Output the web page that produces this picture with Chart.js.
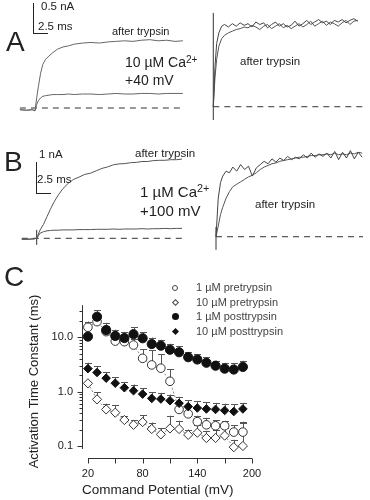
<!DOCTYPE html>
<html>
<head>
<meta charset="utf-8">
<script src="https://cdn.jsdelivr.net/npm/chart.js@4.4.0/dist/chart.umd.min.js"></script>
<style>
body { margin: 0; width: 370px; height: 500px; position: relative; overflow: hidden; background: #fff;
       font-family: "Liberation Sans", Arial, sans-serif; color: #222; }
canvas, .t, .bar, .sym { position: absolute; }
.t { white-space: nowrap; line-height: 1; }
.sup { font-size: 0.72em; position: relative; top: -0.42em; }
.bar { border-left: 1px solid #222; border-bottom: 1px solid #222; }
.leg { font-size: 11px; color: #444; }
</style>
</head>
<body>
<canvas id="aLeft" width="175" height="85" style="left:15px;top:30px"></canvas>
<canvas id="aRight" width="165" height="120" style="left:205px;top:5px"></canvas>
<canvas id="bLeft" width="180" height="110" style="left:15px;top:140px"></canvas>
<canvas id="bRight" width="162" height="115" style="left:208px;top:140px"></canvas>
<canvas id="chartC" width="370" height="240" style="left:0;top:260px"></canvas>

<div class="t" style="left:6px;top:28px;font-size:28px">A</div>
<div class="t" style="left:4px;top:148px;font-size:28px">B</div>
<div class="t" style="left:4px;top:263px;font-size:28px">C</div>

<div class="bar" style="left:33px;top:3px;width:14px;height:30px"></div>
<div class="t" style="left:41px;top:1px;font-size:11.5px">0.5 nA</div>
<div class="t" style="left:38px;top:21px;font-size:11.5px">2.5 ms</div>
<div class="t" style="left:112px;top:26px;font-size:11px">after trypsin</div>
<div class="t" style="left:125px;top:55px;font-size:14px">10 µM Ca<span class="sup">2+</span></div>
<div class="t" style="left:125px;top:73px;font-size:14px">+40 mV</div>
<div class="t" style="left:240px;top:56px;font-size:11.5px">after trypsin</div>

<div class="bar" style="left:36px;top:162px;width:14px;height:31px"></div>
<div class="t" style="left:39px;top:149px;font-size:11.5px">1 nA</div>
<div class="t" style="left:37px;top:174px;font-size:11.5px">2.5 ms</div>
<div class="t" style="left:135px;top:148px;font-size:11.5px">after trypsin</div>
<div class="t" style="left:140px;top:184px;font-size:15px">1 µM Ca<span class="sup">2+</span></div>
<div class="t" style="left:140px;top:203px;font-size:15px">+100 mV</div>
<div class="t" style="left:255px;top:199px;font-size:11.5px">after trypsin</div>

<div class="sym" style="left:172px;top:285px;width:4px;height:4px;border:1px solid #444;border-radius:50%"></div>
<div class="sym" style="left:172.5px;top:300px;width:3px;height:3px;border:1px solid #444;transform:rotate(45deg)"></div>
<div class="sym" style="left:171.5px;top:313px;width:7px;height:7px;background:#111;border-radius:50%"></div>
<div class="sym" style="left:172.5px;top:328.5px;width:5px;height:5px;background:#111;transform:rotate(45deg)"></div>
<div class="t leg" style="left:196px;top:282px">1 µM pretrypsin</div>
<div class="t leg" style="left:196px;top:297px">10 µM pretrypsin</div>
<div class="t leg" style="left:196px;top:311px">1 µM posttrypsin</div>
<div class="t leg" style="left:196px;top:326px">10 µM posttrypsin</div>

<script>
// ---- panel A, left: raw currents (ms, nA)
const aLeftTime = [-2.7, -1.5, -0.5, 0, 0.3, 0.6, 1.0, 1.4, 1.9, 2.5, 3.2, 4.0, 5.0, 6.0, 7.0, 8.5, 10, 11.5, 13, 14.5, 16, 17.5, 19, 20.5, 22, 23.5, 25, 26.4];
const aLeftAfter = [-0.03, -0.04, -0.03, -0.05, 0.18, 0.38, 0.62, 0.78, 0.87, 0.93, 0.99, 1.05, 1.09, 1.11, 1.14, 1.16, 1.17, 1.16, 1.18, 1.19, 1.2, 1.19, 1.21, 1.22, 1.2, 1.21, 1.19, 1.2];
const aLeftBefore = [-0.03, -0.04, -0.03, -0.05, 0.06, 0.13, 0.18, 0.21, 0.22, 0.23, 0.24, 0.24, 0.24, 0.25, 0.24, 0.25, 0.25, 0.24, 0.25, 0.26, 0.25, 0.25, 0.26, 0.26, 0.25, 0.26, 0.26, 0.26];
const aLeftBaseTime = [-2.7, 26.4];

// ---- panel A, right: scaled currents
const aRightTime = [0, 0.3, 0.6, 1, 1.5, 2, 2.7, 3.4, 4.1, 4.8, 5.5, 6.2, 6.9, 7.6, 8.3, 9, 9.7, 10.4, 11.1, 11.8, 12.5, 13.2, 13.9, 14.6, 15.3, 16, 16.7, 17.4, 18.1, 18.8, 19.5, 20.2, 20.9, 21.6, 22.3, 23, 23.7, 24.4, 25.1, 25.8];
const aRightFast = [0, 0.48, 0.76, 0.89, 0.97, 0.99, 0.96, 1.0, 0.97, 1.01, 0.98, 1.0, 0.96, 1.02, 0.99, 1.01, 0.95, 0.99, 1.02, 0.97, 1.0, 0.96, 0.98, 1.03, 0.97, 1.0, 1.04, 0.99, 1.02, 1.05, 1.01, 1.03, 0.99, 1.04, 1.02, 1.05, 1.01, 1.04, 1.06, 1.03];
const aRightSlow = [0, 0.35, 0.57, 0.73, 0.82, 0.86, 0.89, 0.91, 0.93, 0.94, 0.96, 0.95, 0.98, 0.96, 0.93, 0.97, 0.99, 0.94, 0.97, 1.0, 0.95, 0.98, 0.94, 0.97, 1.0, 0.96, 0.99, 1.03, 0.97, 1.0, 1.03, 0.98, 1.02, 1.0, 0.97, 1.01, 1.04, 0.99, 1.03, 1.04];
const aRightBaseTime = [0, 26.7];
const aRightMarkY = [-0.16, 1.13];

// ---- panel B, left: raw currents (ms, nA)
const bLeftTime = [-2.6, -1.5, -0.5, 0, 0.6, 1.2, 1.8, 2.4, 3.0, 3.8, 4.6, 5.5, 6.4, 7.4, 8.4, 9.4, 10.4, 11.4, 12.4, 13.4, 14.4, 15.4, 16.4, 17.4, 18.4, 19.4, 20.4, 21.4, 22.4, 23.4, 24.4, 25.4];
const bLeftAfter = [-0.03, -0.03, -0.02, 0, 0.28, 0.47, 0.72, 0.97, 1.2, 1.45, 1.66, 1.83, 1.96, 2.04, 2.13, 2.17, 2.25, 2.33, 2.38, 2.45, 2.48, 2.49, 2.52, 2.53, 2.56, 2.56, 2.59, 2.6, 2.6, 2.62, 2.62, 2.64];
const bLeftBefore = [-0.03, -0.03, -0.02, 0, 0.17, 0.22, 0.25, 0.26, 0.27, 0.27, 0.28, 0.28, 0.28, 0.29, 0.29, 0.29, 0.30, 0.30, 0.30, 0.31, 0.30, 0.31, 0.31, 0.31, 0.32, 0.31, 0.32, 0.32, 0.33, 0.32, 0.33, 0.33];
const bLeftBaseTime = [-2.6, 25.4];
const bLeftMarkY = [-0.22, 0.28];

// ---- panel B, right: scaled currents
const bRightTime = [0, 0.4, 0.8, 1.2, 1.8, 2.4, 3.0, 3.7, 4.4, 5.1, 5.8, 6.5, 7.2, 7.9, 8.6, 9.3, 10, 10.7, 11.4, 12.1, 12.8, 13.5, 14.2, 14.9, 15.6, 16.3, 17, 17.7, 18.4, 19.1, 19.8, 20.5, 21.2, 21.9, 22.6, 23.3, 24, 24.7, 25.4, 26.1];
const bRightFast = [0, 0.47, 0.66, 0.74, 0.80, 0.78, 0.85, 0.80, 0.88, 0.82, 0.86, 0.74, 0.84, 0.88, 0.92, 0.89, 0.95, 0.91, 0.96, 0.93, 0.98, 0.94, 0.97, 0.95, 1.0, 0.96, 1.02, 0.97, 1.01, 0.98, 1.02, 0.96, 1.04, 0.94, 1.03, 0.96, 1.05, 0.95, 1.03, 0.97];
const bRightSlow = [0, 0.13, 0.27, 0.36, 0.47, 0.55, 0.61, 0.64, 0.67, 0.70, 0.73, 0.75, 0.78, 0.82, 0.85, 0.87, 0.89, 0.9, 0.92, 0.93, 0.94, 0.95, 0.96, 0.97, 0.97, 0.98, 0.99, 0.99, 1.0, 1.0, 1.01, 1.0, 1.02, 1.0, 1.01, 1.0, 1.02, 1.01, 1.03, 1.02];
const bRightBaseTime = [0, 26.25];
const bRightMarkY = [-0.16, 0.12];

// ---- panel C: activation time constants (ms) vs command potential (mV)
const potentials = [20, 30, 40, 50, 60, 70, 80, 90, 100, 110, 120, 130, 140, 150, 160, 170, 180, 190];
const pre1Tau = [15.3, 19.4, 12.7, 8.5, 8.3, 7.2, 4.1, 3.1, 2.7, 1.55, 0.47, 0.39, 0.28, 0.245, 0.235, 0.235, 0.18, 0.18];
const pre1Top = [19.5, 23, 16, 10.5, 10.2, 9.5, 6.0, 5.8, 4.9, 2.6, 0.62, 0.55, 0.36, 0.33, 0.30, 0.29, 0.24, 0.28];
const pre10Tau = [1.42, 0.72, 0.47, 0.41, 0.30, 0.245, 0.275, 0.205, 0.163, 0.21, 0.205, 0.16, 0.175, 0.14, 0.14, 0.155, 0.095, 0.10];
const pre10Top = [1.5, 0.97, 0.6, 0.56, 0.36, 0.3, 0.37, 0.27, 0.21, 0.36, 0.29, 0.2, 0.24, 0.19, 0.2, 0.21, 0.13, 0.27];
const post1Tau = [10.3, 23.9, 13.6, 10.6, 9.7, 11.4, 9.6, 7.5, 7.0, 5.9, 5.3, 4.3, 3.9, 3.4, 3.0, 2.65, 2.55, 2.85];
const post1Top = [10.3, 31.5, 18.5, 13.8, 12.6, 15.2, 12.3, 9.9, 9.0, 7.6, 6.9, 5.4, 4.9, 4.3, 3.7, 3.4, 3.3, 3.7];
const post10Tau = [2.65, 2.25, 1.77, 1.43, 1.18, 1.04, 0.90, 0.75, 0.73, 0.68, 0.61, 0.53, 0.50, 0.48, 0.47, 0.45, 0.43, 0.48];
const post10Top = [3.4, 2.9, 2.3, 1.85, 1.5, 1.35, 1.15, 0.97, 0.95, 0.88, 0.8, 0.7, 0.66, 0.64, 0.62, 0.60, 0.58, 0.62];

const xTicks = [20, 50, 80, 110, 140, 170, 200];
const xLabelled = [20, 80, 140, 200];
const yTicks = [0.1, 0.2, 0.3, 0.4, 0.5, 0.6, 0.7, 0.8, 0.9, 1, 2, 3, 4, 5, 6, 7, 8, 9, 10, 20, 30];
const yLabels = {0.1: '0.1', 1: '1.0', 10: '10.0'};

Chart.defaults.font.family = '"Liberation Sans", Arial, sans-serif';
Chart.defaults.color = '#222';

function pts(xs, ys) {
    return xs.map(function (x, i) { return {x: x, y: ys[i]}; });
}

function trace(xs, ys, colour) {
    return {data: pts(xs, ys), borderColor: colour, borderWidth: 1, pointRadius: 0};
}

function dashed(xs) {
    return {data: pts(xs, xs.map(function () { return 0; })), borderColor: '#333', borderWidth: 1, borderDash: [6, 5], pointRadius: 0};
}

function mark(ys) {
    return {data: pts([0, 0], ys), borderColor: '#333', borderWidth: 1, pointRadius: 0};
}

function traceConfig(datasets, xMin, xMax, yMin, yMax) {
    return {
        type: 'line',
        data: {datasets: datasets},
        options: {
            responsive: false,
            animation: false,
            layout: {padding: 0},
            plugins: {legend: {display: false}, tooltip: {enabled: false}},
            scales: {
                x: {type: 'linear', display: false, min: xMin, max: xMax},
                y: {type: 'linear', display: false, min: yMin, max: yMax}
            }
        }
    };
}

new Chart(document.getElementById('aLeft'), traceConfig([
    trace(aLeftTime, aLeftAfter, '#666'),
    trace(aLeftTime, aLeftBefore, '#666'),
    dashed(aLeftBaseTime)
], -3.571, 27.68, -0.125, 1.393));

new Chart(document.getElementById('aRight'), traceConfig([
    trace(aRightTime, aRightFast, '#444'),
    trace(aRightTime, aRightSlow, '#555'),
    dashed(aRightBaseTime),
    mark(aRightMarkY)
], -1.48, 27.98, -0.22, 1.225));

new Chart(document.getElementById('bLeft'), traceConfig([
    trace(bLeftTime, bLeftAfter, '#555'),
    trace(bLeftTime, bLeftBefore, '#555'),
    dashed(bLeftBaseTime),
    mark(bLeftMarkY)
], -3.79, 27.67, -0.39, 3.277));

new Chart(document.getElementById('bRight'), traceConfig([
    trace(bRightTime, bRightFast, '#444'),
    trace(bRightTime, bRightSlow, '#555'),
    dashed(bRightBaseTime),
    mark(bRightMarkY)
], -1.43, 27.5, -0.223, 1.18));

// axes drawn detached from each other, plus upward error bars
const offsetAxes = {
    id: 'offsetAxes',
    beforeDatasetsDraw(chart) {
        const ctx = chart.ctx;
        const x = chart.scales.x;
        const y = chart.scales.y;
        const area = chart.chartArea;
        ctx.save();
        ctx.strokeStyle = '#333';
        ctx.lineWidth = 1;
        ctx.beginPath();
        const ax = Math.round(area.left) + 0.5;
        ctx.moveTo(ax, y.getPixelForValue(39));
        ctx.lineTo(ax, y.getPixelForValue(0.088));
        yTicks.forEach(function (v) {
            const py = Math.round(y.getPixelForValue(v)) + 0.5;
            ctx.moveTo(ax, py);
            ctx.lineTo(ax - (yLabels[v] ? 5 : 3), py);
        });
        const ay = Math.round(area.bottom) + 0.5;
        ctx.moveTo(x.getPixelForValue(20), ay);
        ctx.lineTo(x.getPixelForValue(200), ay);
        xTicks.forEach(function (v) {
            const px = Math.round(x.getPixelForValue(v)) + 0.5;
            ctx.moveTo(px, ay);
            ctx.lineTo(px, ay + 5);
        });
        ctx.stroke();

        ctx.strokeStyle = '#555';
        ctx.beginPath();
        chart.data.datasets.forEach(function (ds, i) {
            chart.getDatasetMeta(i).data.forEach(function (el, j) {
                const top = y.getPixelForValue(ds.errTop[j]);
                const px = Math.round(el.x) + 0.5;
                ctx.moveTo(px, el.y);
                ctx.lineTo(px, top);
                ctx.moveTo(px - 3.5, Math.round(top) + 0.5);
                ctx.lineTo(px + 3.5, Math.round(top) + 0.5);
            });
        });
        ctx.stroke();
        ctx.restore();
    }
};

new Chart(document.getElementById('chartC'), {
    type: 'scatter',
    data: {
        datasets: [
            {label: '1 µM posttrypsin', data: pts(potentials, post1Tau), errTop: post1Top,
             pointStyle: 'circle', pointRadius: 4.6, backgroundColor: '#111', borderColor: '#111', borderWidth: 1},
            {label: '10 µM posttrypsin', data: pts(potentials, post10Tau), errTop: post10Top,
             pointStyle: 'rectRot', pointRadius: 4.3, backgroundColor: '#111', borderColor: '#111', borderWidth: 1},
            {label: '1 µM pretrypsin', data: pts(potentials, pre1Tau), errTop: pre1Top, showLine: true,
             borderColor: '#666', borderWidth: 0.8, borderDash: [2, 2],
             pointStyle: 'circle', pointRadius: 4.3, pointBackgroundColor: '#fff', pointBorderColor: '#333', pointBorderWidth: 1},
            {label: '10 µM pretrypsin', data: pts(potentials, pre10Tau), errTop: pre10Top, showLine: true,
             borderColor: '#666', borderWidth: 0.8, borderDash: [2, 2],
             pointStyle: 'rectRot', pointRadius: 4.6, pointBackgroundColor: '#fff', pointBorderColor: '#333', pointBorderWidth: 1}
        ]
    },
    options: {
        responsive: false,
        animation: false,
        layout: {padding: {left: 0, top: 45, right: 118, bottom: 0}},
        plugins: {legend: {display: false}, tooltip: {enabled: false}},
        scales: {
            x: {
                type: 'linear', min: 13.5, max: 200,
                afterBuildTicks: function (s) { s.ticks = xTicks.map(function (v) { return {value: v}; }); },
                afterFit: function (s) { s.height = 42; },
                grid: {display: false, drawTicks: false},
                border: {display: false},
                ticks: {autoSkip: false, maxRotation: 0, padding: 9, font: {size: 11},
                        callback: function (v) { return xLabelled.indexOf(v) >= 0 ? String(v) : ''; }},
                title: {display: true, text: 'Command Potential (mV)', align: 'start', padding: {top: 0, bottom: 2}, font: {size: 13.5}}
            },
            y: {
                type: 'logarithmic', min: 0.06, max: 39.3,
                afterBuildTicks: function (s) { s.ticks = yTicks.map(function (v) { return {value: v}; }); },
                afterFit: function (s) { s.width = 82; },
                grid: {display: false, drawTicks: false},
                border: {display: false},
                ticks: {autoSkip: false, padding: 9, font: {size: 11},
                        callback: function (v) { return yLabels[v] || ''; }},
                title: {display: true, text: 'Activation Time Constant (ms)', padding: {top: 27, bottom: 0}, font: {size: 13}}
            }
        }
    },
    plugins: [offsetAxes]
});
</script>
</body>
</html>
